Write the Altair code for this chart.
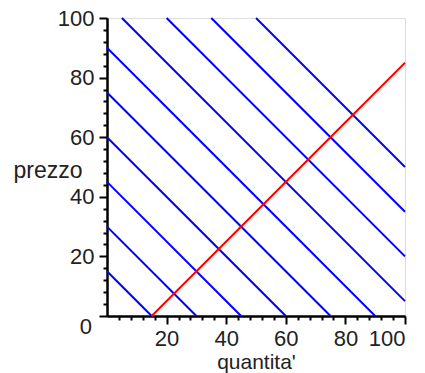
import altair as alt
import pandas as pd

# Data
budget_intercepts = [15, 30, 45, 60, 75, 90, 105, 120, 135, 150]  # blue lines: quantita' + prezzo = c
red_quantity = [15, 100]
red_price = [0, 85]
x_major = [20, 40, 60, 80, 100]
y_major = [0, 20, 40, 60, 80, 100]
minor = [v for v in range(4, 101, 4) if v % 20 != 0]

rows = []
for c in budget_intercepts:
    x0 = max(0, c - 100)
    x1 = min(100, c)
    rows.append({"c": c, "q": x0, "p": c - x0})
    rows.append({"c": c, "q": x1, "p": c - x1})
blue = pd.DataFrame(rows)
red = pd.DataFrame({"q": red_quantity, "p": red_price})
zero = pd.DataFrame({"q": [0], "p": [0], "t": ["0"]})

FONT = "Liberation Sans"
TXT = "#222222"

xscale = alt.Scale(domain=[0, 100], nice=False, zero=False)
yscale = alt.Scale(domain=[0, 100], nice=False, zero=False)

common = dict(grid=False, domainColor="black", domainWidth=2, tickColor="black", tickWidth=2)

x_minor_axis = alt.Axis(orient="bottom", values=minor, labels=False, tickSize=4, title=None, **common)
y_minor_axis = alt.Axis(orient="left", values=minor, labels=False, tickSize=4, title=None, **common)

x_major_axis = alt.Axis(
    orient="bottom", values=x_major, tickSize=8, labelOverlap=False,
    labelFont=FONT, labelFontSize=22, labelColor=TXT, labelPadding=4,
    title="quantita'", titleFont=FONT, titleFontSize=21, titleFontWeight="normal",
    titleColor=TXT, titlePadding=2, **common,
)
y_major_axis = alt.Axis(
    orient="left", values=y_major, tickSize=8, labelOverlap=False,
    labelExpr="datum.value > 0 ? datum.label : ''",
    labelFont=FONT, labelFontSize=22, labelColor=TXT, labelPadding=5,
    title="prezzo", titleAngle=0, titleAlign="right", titleBaseline="middle",
    titleY=152, titleX=-25, titleFont=FONT, titleFontSize=23, titleFontWeight="normal",
    titleColor=TXT, **common,
)

blue_lines = alt.Chart(blue).mark_line(color="#0000FF", strokeWidth=2).encode(
    x=alt.X("q:Q", scale=xscale, axis=x_minor_axis),
    y=alt.Y("p:Q", scale=yscale, axis=y_minor_axis),
    detail="c:N",
)
red_line = alt.Chart(red).mark_line(color="#FF0000", strokeWidth=2).encode(
    x=alt.X("q:Q", scale=xscale, axis=x_major_axis),
    y=alt.Y("p:Q", scale=yscale, axis=y_major_axis),
)
zero_label = alt.Chart(zero).mark_text(
    align="right", baseline="middle", font=FONT, fontSize=22, color=TXT, dx=-15, dy=11
).encode(
    x=alt.X("q:Q", scale=xscale, axis=None),
    y=alt.Y("p:Q", scale=yscale, axis=None),
    text="t:N",
)

chart = (
    alt.layer(blue_lines, red_line, zero_label)
    .resolve_axis(x="independent", y="independent")
    .properties(
        width=298,
        height=298,
        autosize=alt.AutoSizeParams(type="none"),
        padding={"left": 107, "top": 18, "right": 20, "bottom": 57},
    )
    .configure_view(stroke=None)
    .configure(background="white")
)

chart.save("out.html", embed_options={"renderer": "svg", "actions": False})
